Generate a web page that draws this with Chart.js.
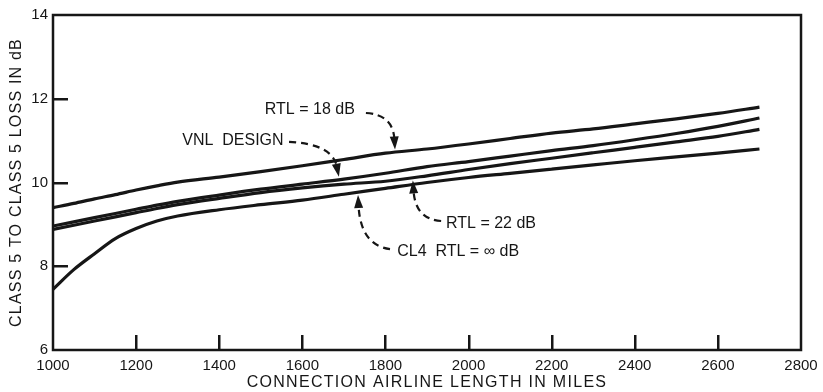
<!DOCTYPE html>
<html>
<head>
<meta charset="utf-8">
<script src="https://cdn.jsdelivr.net/npm/chart.js@4.4.1/dist/chart.umd.min.js"></script>
<style>
  html, body { margin: 0; padding: 0; background: #fff; }
  canvas { display: block; }
</style>
</head>
<body>
<canvas id="c" width="823" height="392" style="width:823px;height:392px"></canvas>
<script>
// Airline length of the connection, miles
const miles = [1000, 1050, 1100, 1150, 1200, 1250, 1300, 1400, 1500, 1600, 1700,
               1800, 1900, 2000, 2100, 2200, 2300, 2400, 2500, 2600, 2700];

// Class 5 to class 5 loss, dB
const rtl18 = [9.40, 9.50, 9.61, 9.71, 9.82, 9.92, 10.01, 10.13, 10.26, 10.40, 10.55,
               10.70, 10.80, 10.92, 11.05, 11.18, 11.28, 11.40, 11.52, 11.65, 11.80];
const vnlDesign = [8.96, 9.06, 9.16, 9.26, 9.36, 9.46, 9.55, 9.70, 9.84, 9.96, 10.08,
                   10.22, 10.38, 10.50, 10.63, 10.76, 10.88, 11.02, 11.17, 11.34, 11.54];
const rtl22 = [8.88, 8.98, 9.08, 9.18, 9.28, 9.38, 9.47, 9.62, 9.76, 9.87, 9.96,
               10.03, 10.16, 10.31, 10.45, 10.58, 10.71, 10.84, 10.97, 11.10, 11.27];
const cl4Infinite = [7.45, 7.92, 8.30, 8.66, 8.90, 9.08, 9.20, 9.35, 9.47, 9.58, 9.72,
                     9.86, 10.00, 10.12, 10.22, 10.32, 10.42, 10.52, 10.61, 10.70, 10.80];

// Axis ranges and tick steps
const xRange = [1000, 2800];
const xStep = 200;
const yRange = [6, 14];
const yStep = 2;

// Curve labels with their leader arrows (data units: text centre, arrow start, bend, tip)
const labels = [
  { text: 'RTL = 18 dB',      at: [1618, 11.73], from: [1753, 11.66], bend: [1818, 11.62], tip: [1823, 10.79] },
  { text: 'VNL  DESIGN',      at: [1433, 10.99], from: [1568, 10.97], bend: [1672, 10.92], tip: [1688, 10.14] },
  { text: 'RTL = 22 dB',      at: [2054, 9.03],  from: [1934, 9.08],  bend: [1872, 9.12],  tip: [1866, 10.05] },
  { text: 'CL4  RTL = \u221E dB', at: [1975, 8.34], from: [1811, 8.41], bend: [1740, 8.50], tip: [1734, 9.70] }
];

const xTitle = 'CONNECTION AIRLINE LENGTH IN MILES';
const yTitle = 'CLASS 5 TO CLASS 5 LOSS IN dB';

const INK = '#161616';
const FONT = '"Liberation Sans", Arial, sans-serif';
const TICK_IN = 15;   // tick marks point into the plot

function series(values) {
  return miles.map((m, i) => ({ x: m, y: values[i] }));
}

function lineSet(values) {
  return {
    data: series(values),
    borderColor: INK,
    borderWidth: 3.2,
    pointRadius: 0,
    fill: false,
    cubicInterpolationMode: 'monotone'
  };
}

// Fixed axis boxes: the plot spans the same area whatever the label overflow
function fixBox(size, key) {
  return s => {
    s[key] = size;
    s.paddingTop = 0;
    s.paddingBottom = 0;
    s.paddingLeft = 0;
    s.paddingRight = 0;
  };
}

// Frame with inward tick marks, axis titles and curve labels
const decorations = {
  id: 'decorations',
  afterDraw(chart) {
    const { ctx, chartArea: a, scales: { x, y } } = chart;
    ctx.save();
    ctx.strokeStyle = INK;
    ctx.fillStyle = INK;
    ctx.setLineDash([]);
    ctx.lineWidth = 2.5;

    ctx.strokeRect(a.left, a.top, a.right - a.left, a.bottom - a.top);

    // inward tick marks on the bottom and left axes
    for (let v = xRange[0] + xStep; v < xRange[1]; v += xStep) {
      const px = Math.round(x.getPixelForValue(v));
      ctx.fillRect(px - 1, Math.round(a.bottom) - TICK_IN, 2.5, TICK_IN);
    }
    for (let v = yRange[0] + yStep; v < yRange[1]; v += yStep) {
      const py = Math.round(y.getPixelForValue(v));
      ctx.fillRect(Math.round(a.left), py - 1, TICK_IN, 2.5);
    }

    // curve labels
    ctx.font = '16px ' + FONT;
    ctx.textBaseline = 'middle';
    ctx.textAlign = 'center';
    labels.forEach(l => {
      const P = p => [x.getPixelForValue(p[0]), y.getPixelForValue(p[1])];
      const [tx, ty] = P(l.at);
      ctx.fillText(l.text, tx, ty);
      const [sx, sy] = P(l.from);
      const [bx, by] = P(l.bend);
      const [ex, ey] = P(l.tip);
      const ang = Math.atan2(ey - by, ex - bx);
      const head = 13;
      const half = 4.5;
      const hx = ex - Math.cos(ang) * head * 0.8;
      const hy = ey - Math.sin(ang) * head * 0.8;
      ctx.lineWidth = 2.2;
      ctx.setLineDash([7, 5]);
      ctx.beginPath();
      ctx.moveTo(sx, sy);
      ctx.quadraticCurveTo(bx, by, hx, hy);
      ctx.stroke();
      ctx.setLineDash([]);
      ctx.beginPath();
      ctx.moveTo(ex, ey);
      ctx.lineTo(ex - Math.cos(ang) * head + Math.sin(ang) * half,
                 ey - Math.sin(ang) * head - Math.cos(ang) * half);
      ctx.lineTo(ex - Math.cos(ang) * head - Math.sin(ang) * half,
                 ey - Math.sin(ang) * head + Math.cos(ang) * half);
      ctx.closePath();
      ctx.fill();
    });

    // axis titles
    ctx.font = '16px ' + FONT;
    ctx.letterSpacing = '1.3px';
    ctx.textAlign = 'center';
    ctx.fillText(xTitle, (a.left + a.right) / 2, 383);
    ctx.translate(17, (a.top + a.bottom) / 2);
    ctx.rotate(-Math.PI / 2);
    ctx.letterSpacing = '1.2px';
    ctx.fillText(yTitle, 0, 0);
    ctx.restore();
  }
};

new Chart(document.getElementById('c'), {
  type: 'line',
  data: {
    datasets: [lineSet(rtl18), lineSet(vnlDesign), lineSet(rtl22), lineSet(cl4Infinite)]
  },
  options: {
    responsive: false,
    animation: false,
    devicePixelRatio: 1,
    layout: { padding: { top: 15, right: 22, bottom: 0, left: 0 } },
    plugins: { legend: { display: false }, tooltip: { enabled: false } },
    scales: {
      x: {
        type: 'linear',
        min: xRange[0],
        max: xRange[1],
        grid: { display: false, drawTicks: false },
        border: { display: false },
        ticks: {
          stepSize: xStep,
          autoSkip: false,
          maxRotation: 0,
          padding: 7,
          color: INK,
          font: { family: FONT, size: 15 },
          callback: v => String(v)
        },
        afterFit: fixBox(42, 'height')
      },
      y: {
        min: yRange[0],
        max: yRange[1],
        grid: { display: false, drawTicks: false },
        border: { display: false },
        ticks: {
          stepSize: yStep,
          padding: 5,
          color: INK,
          font: { family: FONT, size: 15 },
          callback: v => String(v)
        },
        afterFit: fixBox(53, 'width')
      }
    }
  },
  plugins: [decorations]
});
</script>
</body>
</html>
